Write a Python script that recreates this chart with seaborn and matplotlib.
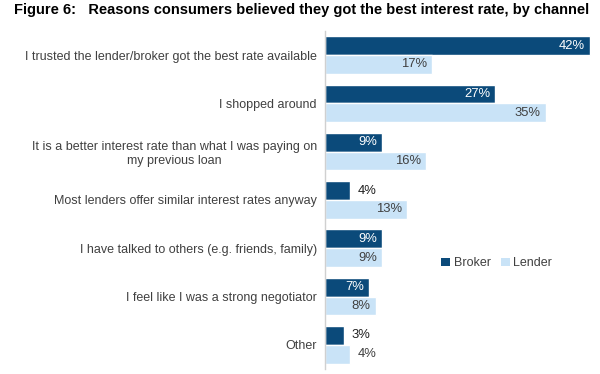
import matplotlib
matplotlib.use("Agg")
import matplotlib.pyplot as plt
import seaborn as sns
import pandas as pd
from matplotlib.patches import Patch

categories = [
    "I trusted the lender/broker got the best rate available",
    "I shopped around",
    "It is a better interest rate than what I was paying on\nmy previous loan",
    "Most lenders offer similar interest rates anyway",
    "I have talked to others (e.g. friends, family)",
    "I feel like I was a strong negotiator",
    "Other",
]
broker = [42, 27, 9, 4, 9, 7, 3]
lender = [17, 35, 16, 13, 9, 8, 4]
series = ["Broker", "Lender"]

sns.set_theme(style="white")
plt.rcParams["font.family"] = ["Liberation Sans", "DejaVu Sans"]

df = pd.DataFrame({
    "reason": categories * 2,
    "value": broker + lender,
    "channel": ["Broker"] * len(categories) + ["Lender"] * len(categories),
})

dark = "#0B4A7A"
light = "#C9E3F7"
fs = 9
vfs = 9.4

fig = plt.figure(figsize=(6, 3.74), dpi=100)
ax = fig.add_axes([0.542, 0.0134, 0.455, 0.904])
sns.barplot(data=df, y="reason", x="value", hue="channel", order=categories,
            hue_order=series, palette=[dark, light], width=0.78, ax=ax,
            orient="h", saturation=1, legend=False)

ax.set_xlim(0, 43.3)
ax.set_ylim(6.5, -0.5)
ax.set_xlabel("")
ax.set_ylabel("")
ax.set_xticks([])
ax.tick_params(axis="y", length=0, pad=6, labelsize=fs, labelcolor="#404040")
for lbl in ax.get_yticklabels():
    lbl.set_multialignment("center")
for s in ["top", "right", "bottom"]:
    ax.spines[s].set_visible(False)
ax.spines["left"].set_color("#D0D0D0")
ax.spines["left"].set_linewidth(1)

for container, ser in zip(ax.containers[:2], series):
    for rect in container:
        w = rect.get_width()
        y = rect.get_y() + rect.get_height() / 2
        txt = f"{w:.0f}%"
        inside_color = "white" if ser == "Broker" else "#404040"
        outside_color = "#202020" if ser == "Broker" else "#404040"
        if w >= 6:
            ax.text(w - 0.8, y, txt, ha="right", va="center", color=inside_color, fontsize=vfs)
        else:
            ax.text(w + 1.1, y, txt, ha="left", va="center", color=outside_color, fontsize=vfs)

handles = [Patch(facecolor=dark, edgecolor="none"), Patch(facecolor=light, edgecolor="none")]
fig.legend(handles, series, loc="center", bbox_to_anchor=(0.828, 0.296), ncol=2, frameon=False,
           fontsize=fs, handlelength=0.7, handleheight=0.7, handletextpad=0.3, columnspacing=0.8,
           labelcolor="#404040")

fig.text(0.023, 0.972, "Figure 6:   Reasons consumers believed they got the best interest rate, by channel",
         fontsize=10.5, fontweight="bold", ha="left", va="center", color="black")

fig.savefig("out.png", dpi=100)
